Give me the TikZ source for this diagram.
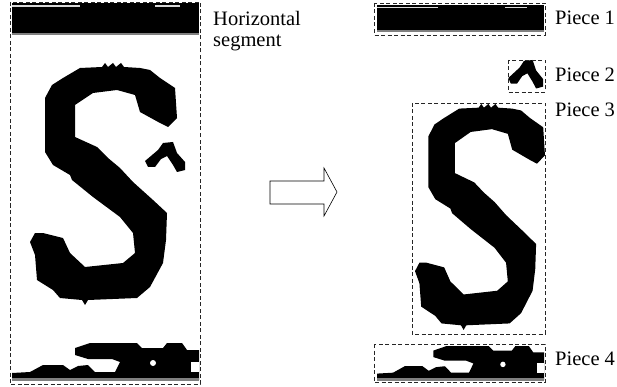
\documentclass[tikz,border=0pt]{standalone}
\usepackage{fontspec}
\setmainfont{Liberation Serif}
\newcommand\SPath{(80,68) -- (102,67) -- (105,63) -- (108,67) -- (113,63) -- (116,67) -- (121,63) -- (124,67) -- (140,68) -- (150,70) -- (160,78) -- (175,88) -- (177,118) -- (168,127) -- (160,123) -- (140,112) -- (135,95) -- (117,90) -- (93,93) -- (75,105) -- (75,137) -- (97,147) -- (108,158) -- (120,168) -- (133,182) -- (153,200) -- (167,213) -- (166,240) -- (163,263) -- (150,287) -- (137,298) -- (88,300) -- (85,305) -- (82,300) -- (60,298) -- (53,290) -- (37,280) -- (35,255) -- (30,242) -- (35,233) -- (43,233) -- (63,238) -- (70,253) -- (85,267) -- (123,263) -- (135,253) -- (133,233) -- (120,217) -- (93,197) -- (72,180) -- (70,175) -- (53,165) -- (45,152) -- (45,98) -- (52,85) -- (63,78) -- cycle}
\newcommand\TickPath{(145,161) -- (158,150) -- (163,143) -- (173,142) -- (177,153) -- (185,162) -- (185,170) -- (177,172) -- (173,165) -- (167,156) -- (161,159) -- (155,167) -- (148,167) -- cycle}
\newcommand\TopBar{%
  \fill[black] (12,3) rectangle (199,33);
  \fill[gray] (12,33) rectangle (199,35);
  \fill[black!15] (12,5) rectangle (80,7);
  \fill[black!15] (155,5) rectangle (180,7);}
\newcommand\BottomStrip{%
  \fill[black] (12,380) -- (12,373) -- (30,372) -- (43,365) -- (63,365) -- (70,370) -- (78,366) -- (88,365) -- (95,372) -- (115,372) -- (120,362) -- (112,359) -- (88,359) -- (75,355) -- (75,348) -- (90,343) -- (137,343) -- (142,348) -- (163,348) -- (167,343) -- (182,343) -- (187,350) -- (199,350) -- (199,380) -- cycle;
  \fill[white] (153,363) circle (3);
  \fill[white] (191,362) rectangle (199,372);
  \fill[gray] (12,378) rectangle (199,381);}
\tikzset{
  dbox/.style={draw=black!85, line width=0.8pt, dash pattern=on 4pt off 2.5pt},
  lbl/.style={font=\fontsize{20.5}{22}\selectfont, inner sep=0pt, anchor=base west},
  bigarrow/.style={draw=black, line width=0.6pt, fill=white, line join=miter}
}
\begin{document}
\begin{tikzpicture}[x=1pt,y=-1pt]
\useasboundingbox (0,0) rectangle (617,387);
% left original
\TopBar
\fill[black] \SPath;
\fill[black] \TickPath;
\BottomStrip
\draw[dbox] (10,2) rectangle (200,384);
\node[lbl] (hs1) at (213,26) {Horizontal};
\node[lbl] (hs2) at (213,47) {segment};
% arrow
\draw[bigarrow] (270,181) -- (324,181) -- (324,168) -- (337,192) -- (324,216) -- (324,204) -- (270,204) -- cycle;
% right pieces
\begin{scope}[shift={(377,5)}, xscale=0.893, yscale=0.85, shift={(-12,-3)}]
  \TopBar
\end{scope}
\begin{scope}[shift={(510,60)}, xscale=0.87, yscale=0.95, shift={(-147,-142)}]
  \fill[black] \TickPath;
\end{scope}
\begin{scope}[shift={(415,103)}, xscale=0.884, yscale=0.934, shift={(-30,-62)}]
  \fill[black] \SPath;
\end{scope}
\begin{scope}[shift={(377,346)}, xscale=0.893, yscale=0.92, shift={(-12,-343)}]
  \BottomStrip
\end{scope}
\draw[dbox] (374,3) rectangle (545,35);
\draw[dbox] (508,60) rectangle (545,92);
\draw[dbox] (412,103) rectangle (545,334);
\draw[dbox] (374,344) rectangle (545,382);
\node[lbl] (p1) at (555,25) {Piece 1};
\node[lbl] (p2) at (555,82) {Piece 2};
\node[lbl] (p3) at (555,117) {Piece 3};
\node[lbl] (p4) at (555,365) {Piece 4};
\end{tikzpicture}
\end{document}
